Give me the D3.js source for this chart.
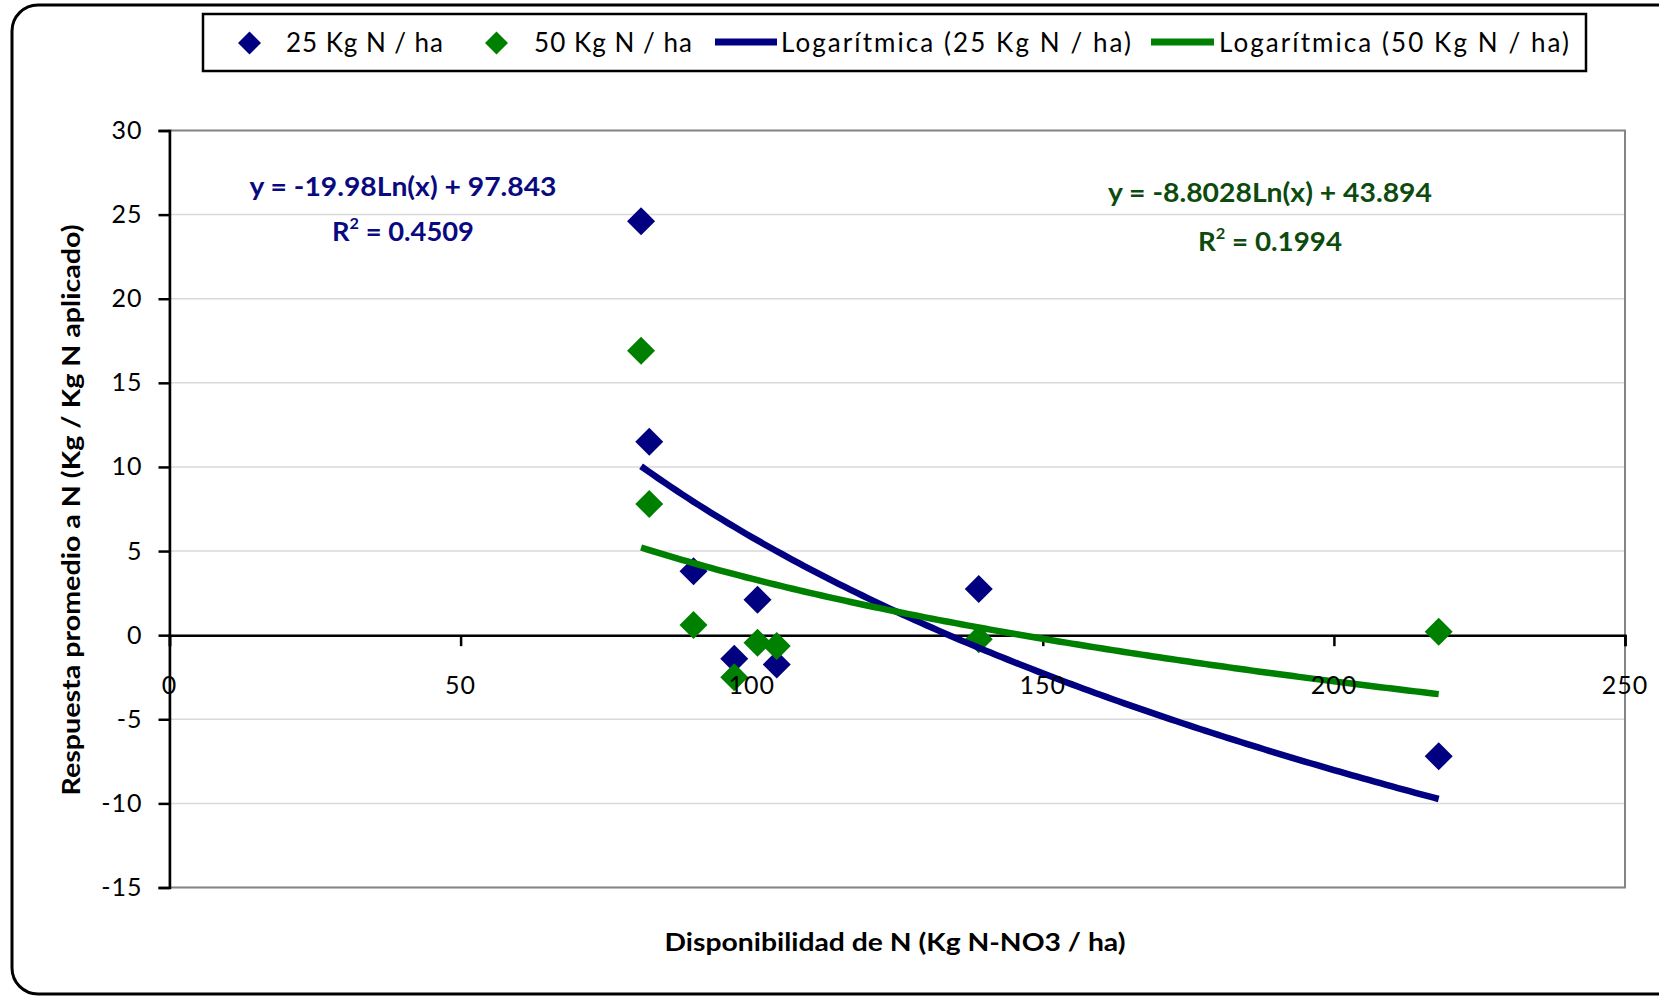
<!DOCTYPE html>
<html>
<head>
<meta charset="utf-8">
<script src="https://cdn.jsdelivr.net/npm/d3@7/dist/d3.min.js"></script>
<style>
  html, body { margin: 0; padding: 0; background: #fff; }
  svg { display: block; }
  text { font-family: Lato, "Open Sans", sans-serif; }
</style>
</head>
<body>
<svg id="chart" width="1659" height="996"></svg>
<script>
// ---- data ----
const nAvailable = [81, 82.4, 90, 97, 101, 104.3, 139, 218];
const resp25 = [24.6, 11.5, 3.8, -1.4, 2.1, -1.75, 2.75, -7.2];
const resp50 = [16.9, 7.8, 0.6, -2.5, -0.45, -0.65, -0.25, 0.2];
const trend25 = [-19.98, 97.843];   // y = a*ln(x) + b
const trend50 = [-8.8028, 43.894];
const xTicks = [0, 50, 100, 150, 200, 250];
const yTicks = [-15, -10, -5, 0, 5, 10, 15, 20, 25, 30];
const seriesNames = ["25 Kg N / ha", "50 Kg N / ha", "Logarítmica (25 Kg N / ha)", "Logarítmica (50 Kg N / ha)"];
const eqLabels = ["y = -19.98Ln(x) + 97.843", "R", " = 0.4509", "y = -8.8028Ln(x) + 43.894", " = 0.1994"];

const BLUE = "#000080", GREEN = "#008000";

const svg = d3.select("#chart");

// outer rounded frame
svg.append("rect").attr("x", 12).attr("y", 5).attr("width", 1700).attr("height", 989)
  .attr("rx", 26).attr("ry", 26).attr("fill", "#fff").attr("stroke", "#000").attr("stroke-width", 3);

const L = 169.5, R = 1625, T = 130.5, B = 887.5;
const x = d3.scaleLinear().domain([0, 250]).range([L, R]);
const y = d3.scaleLinear().domain([-15, 30]).range([B, T]);

// gridlines
svg.append("g").selectAll("line").data(yTicks).join("line")
  .attr("x1", L).attr("x2", R).attr("y1", d => y(d)).attr("y2", d => y(d))
  .attr("stroke", "#d9d9d9").attr("stroke-width", 1.5);

// plot border
svg.append("rect").attr("x", L).attr("y", T).attr("width", R - L).attr("height", B - T)
  .attr("fill", "none").attr("stroke", "#858585").attr("stroke-width", 2);

// y axis
const yAxis = d3.axisLeft(y).tickValues(yTicks).tickSize(11).tickPadding(16).tickFormat(d => String(d));
const gy = svg.append("g").attr("transform", `translate(${L},0)`).call(yAxis);
gy.select(".domain").attr("stroke", "#000").attr("stroke-width", 2.5);
gy.selectAll(".tick line").attr("stroke", "#000").attr("stroke-width", 2.5);
gy.selectAll(".tick text").attr("font-family", "Lato, sans-serif").attr("font-size", 25)
  .attr("fill", "#000").attr("letter-spacing", 1);

// zero line with x ticks
const xAxis = d3.axisBottom(x).tickValues(xTicks).tickSize(11).tickFormat("");
const gx = svg.append("g").attr("transform", `translate(0,${y(0)})`).call(xAxis);
gx.select(".domain").attr("stroke", "#000").attr("stroke-width", 2.5);
gx.selectAll(".tick line").attr("stroke", "#000").attr("stroke-width", 2.5);

// markers
const diamond = d3.symbol().type(d3.symbolSquare).size(392);
function markers(vals, color) {
  svg.append("g").selectAll("path").data(vals.map((v, i) => [nAvailable[i], v])).join("path")
    .attr("d", diamond)
    .attr("transform", d => `translate(${x(d[0])},${y(d[1])}) rotate(45)`)
    .attr("fill", color);
}
markers(resp25, BLUE);
markers(resp50, GREEN);

// trendlines
const xmin = d3.min(nAvailable), xmax = d3.max(nAvailable);
const xs = d3.range(xmin, xmax, 1).concat([xmax]);
function trend(coef, color) {
  const line = d3.line().x(d => x(d)).y(d => y(coef[0] * Math.log(d) + coef[1]));
  svg.append("path").datum(xs).attr("d", line).attr("fill", "none")
    .attr("stroke", color).attr("stroke-width", 6.5);
}
trend(trend25, BLUE);
trend(trend50, GREEN);

// x tick labels (drawn above markers)
svg.append("g").selectAll("text").data(xTicks).join("text")
  .attr("x", d => x(d)).attr("y", 694).attr("text-anchor", "middle")
  .attr("font-size", 25).attr("letter-spacing", 1).attr("fill", "#000").text(d => d);

// equation labels
function eq(cx, y1, y2, color, eqText, r2Text, w1, w2) {
  svg.append("text").attr("x", cx).attr("y", y1).attr("text-anchor", "middle")
    .attr("font-weight", "bold").attr("font-size", 27).attr("fill", color)
    .attr("textLength", w1).attr("lengthAdjust", "spacingAndGlyphs").text(eqText);
  const t = svg.append("text").attr("x", cx).attr("y", y2).attr("text-anchor", "middle")
    .attr("font-weight", "bold").attr("font-size", 27).attr("fill", color)
    .attr("textLength", w2).attr("lengthAdjust", "spacingAndGlyphs");
  t.append("tspan").text(eqLabels[1]);
  t.append("tspan").attr("font-size", 16).attr("dy", -12).text("2");
  t.append("tspan").attr("dy", 12).text(r2Text);
}
eq(403, 196, 241, "#0a0a80", eqLabels[0], eqLabels[2], 307, 142);
eq(1270, 202, 251, "#0d4a0d", eqLabels[3], eqLabels[4], 324, 144);

// axis titles
svg.append("text").attr("x", 895).attr("y", 951).attr("text-anchor", "middle")
  .attr("font-weight", "bold").attr("font-size", 25).attr("fill", "#000")
  .attr("textLength", 461).attr("lengthAdjust", "spacingAndGlyphs")
  .text("Disponibilidad de N (Kg N-NO3 / ha)");
svg.append("text").attr("transform", "translate(80,510) rotate(-90)").attr("text-anchor", "middle")
  .attr("font-weight", "bold").attr("font-size", 25).attr("fill", "#000")
  .attr("textLength", 571).attr("lengthAdjust", "spacingAndGlyphs")
  .text("Respuesta promedio a N (Kg / Kg N aplicado)");

// legend
const lg = svg.append("g");
lg.append("rect").attr("x", 203).attr("y", 14).attr("width", 1383).attr("height", 57)
  .attr("fill", "#fff").attr("stroke", "#000").attr("stroke-width", 2.5);
const legendItems = [
  {kind: "marker", color: BLUE, mx: 249.5, tx: 286, tw: 157},
  {kind: "marker", color: GREEN, mx: 496.5, tx: 534, tw: 158},
  {kind: "line", color: BLUE, mx: 715, mx2: 777, tx: 781, tw: 350},
  {kind: "line", color: GREEN, mx: 1151, mx2: 1214, tx: 1219, tw: 350}
];
const legendSym = d3.symbol().type(d3.symbolSquare).size(265);
legendItems.forEach((it, i) => {
  if (it.kind === "marker") {
    lg.append("path").attr("d", legendSym).attr("transform", `translate(${it.mx},43) rotate(45)`).attr("fill", it.color);
  } else {
    lg.append("line").attr("x1", it.mx).attr("x2", it.mx2).attr("y1", 42).attr("y2", 42)
      .attr("stroke", it.color).attr("stroke-width", 7);
  }
  lg.append("text").attr("x", it.tx).attr("y", 52).attr("font-size", 26).attr("fill", "#000")
    .attr("textLength", it.tw).attr("lengthAdjust", "spacing").text(seriesNames[i]);
});
</script>
</body>
</html>
